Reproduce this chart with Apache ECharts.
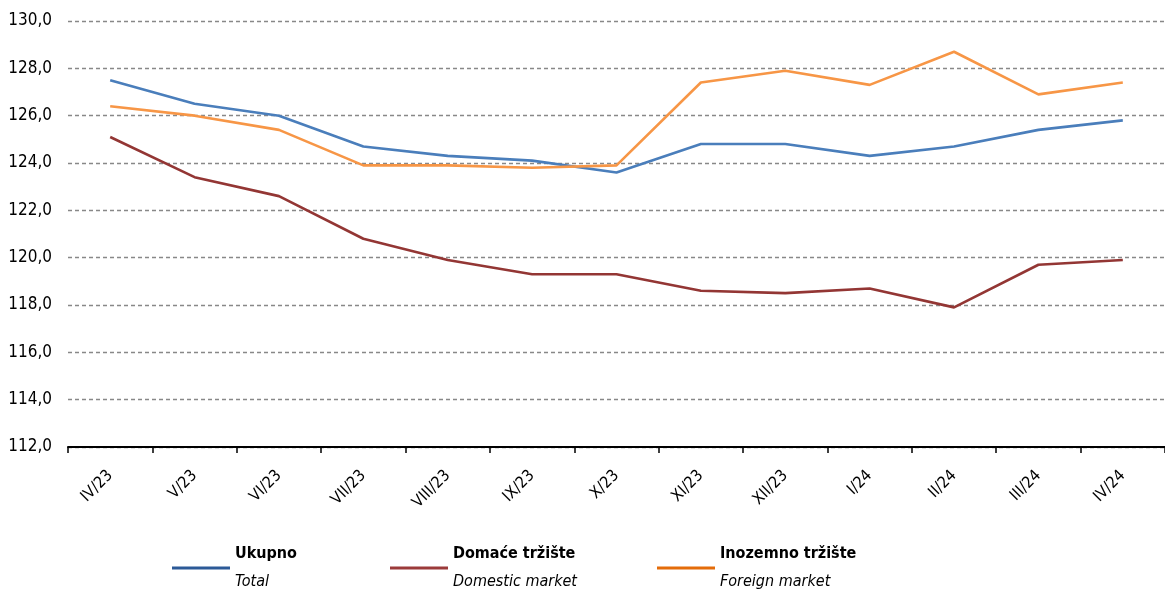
<!DOCTYPE html>
<html>
<head>
<meta charset="utf-8">
<script src="https://cdn.jsdelivr.net/npm/echarts@6/dist/echarts.min.js"></script>
<style>
  html, body { margin: 0; padding: 0; background: #fff; }
  #chart { width: 1165px; height: 591px; }
</style>
</head>
<body>
<div id="chart"></div>
<script>
// mjeseci
const categories = ['IV/23', 'V/23', 'VI/23', 'VII/23', 'VIII/23', 'IX/23', 'X/23',
  'XI/23', 'XII/23', 'I/24', 'II/24', 'III/24', 'IV/24']
const ukupno = [127.5, 126.5, 126.0, 124.7, 124.3, 124.1, 123.6, 124.8, 124.8, 124.3, 124.7, 125.4, 125.8]
const domace = [125.1, 123.4, 122.6, 120.8, 119.9, 119.3, 119.3, 118.6, 118.5, 118.7, 117.9, 119.7, 119.9]
const inozemno = [126.4, 126.0, 125.4, 123.9, 123.9, 123.8, 123.9, 127.4, 127.9, 127.3, 128.7, 126.9, 127.4]

const FONT = '"DejaVu Sans Condensed", "Liberation Sans Narrow", "Arial Narrow", sans-serif'

const chart = echarts.init(document.getElementById('chart'))

// legenda: naziv + engleski prijevod
function legendItem (name, left) {
  return {
    data: [name],
    left: left,
    top: 546,
    padding: 0,
    icon: 'rect',
    itemWidth: 58,
    itemHeight: 3,
    itemGap: 0,
    selectedMode: false,
    formatter: function (n) {
      const en = { 'Ukupno': 'Total', 'Domaće tržište': 'Domestic market', 'Inozemno tržište': 'Foreign market' }
      return '{b|' + n + '}\n{i|' + en[n] + '}'
    },
    textStyle: {
      rich: {
        b: { fontFamily: FONT, fontSize: 16, fontWeight: 'bold', color: '#000', lineHeight: 28 },
        i: { fontFamily: FONT, fontSize: 16, fontStyle: 'italic', color: '#000', lineHeight: 28 }
      }
    }
  }
}

function lineSeries (name, data, lineColor, legendColor) {
  return {
    name: name,
    type: 'line',
    data: data,
    showSymbol: false,
    symbol: 'none',
    lineStyle: { color: lineColor, width: 2.6 },
    itemStyle: { color: legendColor },
    animation: false
  }
}

const option = {
  animation: false,
  grid: { left: 68, top: 21, width: 1105, height: 426, containLabel: false },
  legend: [
    legendItem('Ukupno', 172),
    legendItem('Domaće tržište', 390),
    legendItem('Inozemno tržište', 657)
  ],
  xAxis: {
    type: 'category',
    data: categories,
    boundaryGap: true,
    axisLine: { lineStyle: { color: '#000', width: 2 } },
    axisTick: { show: true, length: 6, lineStyle: { color: '#000', width: 1.5 } },
    axisLabel: {
      rotate: 45,
      margin: 26,
      fontFamily: FONT,
      fontSize: 16,
      color: '#000'
    }
  },
  yAxis: {
    type: 'value',
    min: 112,
    max: 130,
    interval: 2,
    axisLine: { show: false },
    axisTick: { show: false },
    axisLabel: {
      margin: 16,
      fontFamily: FONT,
      fontSize: 17,
      color: '#000',
      formatter: function (v) { return v.toFixed(1).replace('.', ',') }
    },
    splitLine: {
      lineStyle: { color: '#888', width: 1.3, type: [4, 3] }
    }
  },
  series: [
    lineSeries('Ukupno', ukupno, '#4a7ebb', '#2c5a97'),
    lineSeries('Domaće tržište', domace, '#933634', '#9b3b3a'),
    lineSeries('Inozemno tržište', inozemno, '#f79646', '#e46c0a')
  ]
}

chart.setOption(option)
</script>
</body>
</html>
